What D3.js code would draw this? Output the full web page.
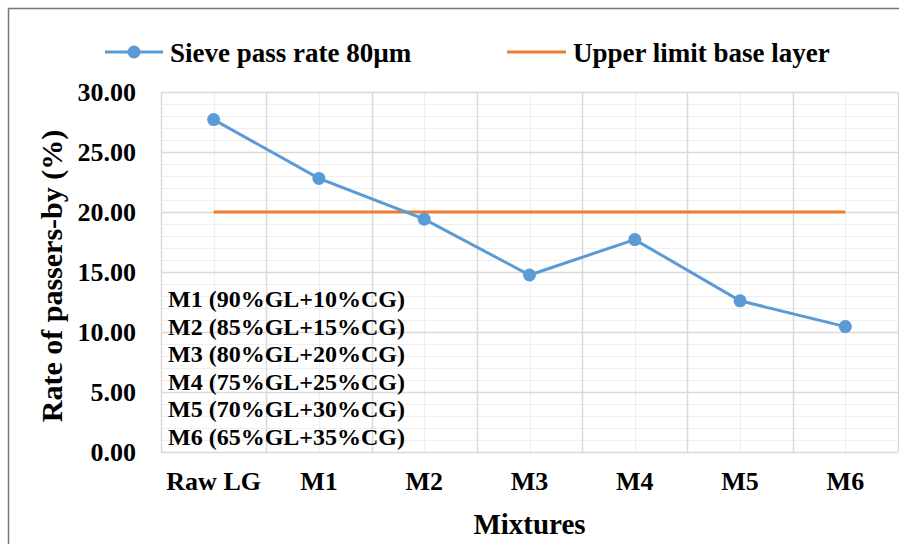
<!DOCTYPE html>
<html>
<head>
<meta charset="utf-8">
<script src="https://cdn.jsdelivr.net/npm/d3@7"></script>
<style>
  body { margin: 0; background: #fff; }
  svg text { font-family: "Liberation Serif", "Times New Roman", serif; fill: #000; }
</style>
</head>
<body>
<div id="chart"></div>
<script>
// chart data
var categories = ["Raw LG", "M1", "M2", "M3", "M4", "M5", "M6"];
var passRate = [27.7, 22.8, 19.4, 14.75, 17.7, 12.6, 10.45];
var upperLimit = [20, 20, 20, 20, 20, 20, 20];
var yTicks = [0, 5, 10, 15, 20, 25, 30];
var notes = [
  "M1 (90%GL+10%CG)",
  "M2 (85%GL+15%CG)",
  "M3 (80%GL+20%CG)",
  "M4 (75%GL+25%CG)",
  "M5 (70%GL+30%CG)",
  "M6 (65%GL+35%CG)"
];

var W = 899, H = 544;
var margin = {top: 92, right: 1, bottom: 92, left: 161};
var width = W - margin.left - margin.right,
    height = H - margin.top - margin.bottom;

var blue = "#5b9bd5", orange = "#ed7d31";

var svg = d3.select("#chart").append("svg")
    .attr("width", W)
    .attr("height", H);

// outer frame
svg.append("rect")
    .attr("x", 8.5).attr("y", 8.5)
    .attr("width", W).attr("height", H)
    .attr("fill", "none")
    .attr("stroke", "#767676")
    .attr("stroke-width", 1.5);

var g = svg.append("g")
    .attr("transform", "translate(" + margin.left + "," + margin.top + ")");

// scales
var x = d3.scaleBand().domain(categories).range([0, width]);
var y = d3.scaleLinear().domain([0, 30]).range([height, 0]);
var xc = function (d) { return x(d) + x.bandwidth() / 2; };

// minor horizontal grid (every 1)
g.append("g").selectAll("line")
    .data(d3.range(0, 31, 1).filter(function (v) { return v % 5 != 0; }))
  .enter().append("line")
    .attr("x1", 0).attr("x2", width)
    .attr("y1", function (d) { return Math.round(y(d)) + 0.5; })
    .attr("y2", function (d) { return Math.round(y(d)) + 0.5; })
    .attr("stroke", "#efefef").attr("stroke-width", 1.2);

// minor vertical grid (category centres)
g.append("g").selectAll("line")
    .data(categories)
  .enter().append("line")
    .attr("x1", function (d) { return Math.round(xc(d)) + 0.5; })
    .attr("x2", function (d) { return Math.round(xc(d)) + 0.5; })
    .attr("y1", 0).attr("y2", height)
    .attr("stroke", "#efefef").attr("stroke-width", 1.2);

// major horizontal grid
g.append("g").selectAll("line")
    .data(yTicks)
  .enter().append("line")
    .attr("x1", 0).attr("x2", width)
    .attr("y1", function (d) { return Math.round(y(d)) + 0.5; })
    .attr("y2", function (d) { return Math.round(y(d)) + 0.5; })
    .attr("stroke", "#d9d9d9").attr("stroke-width", 1.5);

// major vertical grid (category boundaries)
g.append("g").selectAll("line")
    .data(categories.concat(["end"]))
  .enter().append("line")
    .attr("x1", function (d, i) { return Math.round(i * x.step()) + 0.5; })
    .attr("x2", function (d, i) { return Math.round(i * x.step()) + 0.5; })
    .attr("y1", 0).attr("y2", height)
    .attr("stroke", "#d9d9d9").attr("stroke-width", 1.5);

// y axis labels
var yAxis = g.append("g")
    .call(d3.axisLeft(y).tickValues(yTicks).tickFormat(d3.format(".2f")).tickSize(0).tickPadding(25));
yAxis.select(".domain").remove();
yAxis.selectAll("text")
    .style("font-size", "26px").style("font-weight", "bold")
    .attr("dy", "0.34em");

// x axis labels
var xAxis = g.append("g")
    .attr("transform", "translate(0," + height + ")")
    .call(d3.axisBottom(x).tickSize(0).tickPadding(20));
xAxis.select(".domain").remove();
xAxis.selectAll("text")
    .style("font-size", "26px").style("font-weight", "bold")
    .attr("dy", "0.71em");

// notes block
g.append("g").selectAll("text")
    .data(notes)
  .enter().append("text")
    .attr("x", 7)
    .attr("y", function (d, i) { return 215 + i * 27.6; })
    .style("font-size", "24px").style("font-weight", "bold")
    .text(function (d) { return d; });

// upper limit line
var line = d3.line()
    .x(function (d, i) { return xc(categories[i]); })
    .y(function (d) { return y(d); });

g.append("path")
    .datum(upperLimit)
    .attr("fill", "none")
    .attr("stroke", orange).attr("stroke-width", 3)
    .attr("d", line);

// pass rate line + markers
g.append("path")
    .datum(passRate)
    .attr("fill", "none")
    .attr("stroke", blue).attr("stroke-width", 3)
    .attr("d", line);

g.append("g").selectAll("circle")
    .data(passRate)
  .enter().append("circle")
    .attr("cx", function (d, i) { return xc(categories[i]); })
    .attr("cy", function (d) { return y(d); })
    .attr("r", 6.5)
    .attr("fill", blue);

// axis titles
svg.append("text")
    .attr("transform", "translate(62,276) rotate(-90)")
    .attr("text-anchor", "middle")
    .style("font-size", "30px").style("font-weight", "bold")
    .text("Rate of passers-by (%)");

svg.append("text")
    .attr("x", margin.left + width / 2)
    .attr("y", 534)
    .attr("text-anchor", "middle")
    .style("font-size", "29px").style("font-weight", "bold")
    .text("Mixtures");

// legend
var legend = svg.append("g");
legend.append("line")
    .attr("x1", 105).attr("x2", 163).attr("y1", 52).attr("y2", 52)
    .attr("stroke", blue).attr("stroke-width", 3);
legend.append("circle")
    .attr("cx", 134).attr("cy", 52).attr("r", 6.5).attr("fill", blue);
legend.append("text")
    .attr("x", 170).attr("y", 62)
    .style("font-size", "27px").style("font-weight", "bold")
    .text("Sieve pass rate 80µm");
legend.append("line")
    .attr("x1", 507).attr("x2", 566).attr("y1", 52).attr("y2", 52)
    .attr("stroke", orange).attr("stroke-width", 3);
legend.append("text")
    .attr("x", 573).attr("y", 62)
    .style("font-size", "27px").style("font-weight", "bold")
    .text("Upper limit base layer");
</script>
</body>
</html>
